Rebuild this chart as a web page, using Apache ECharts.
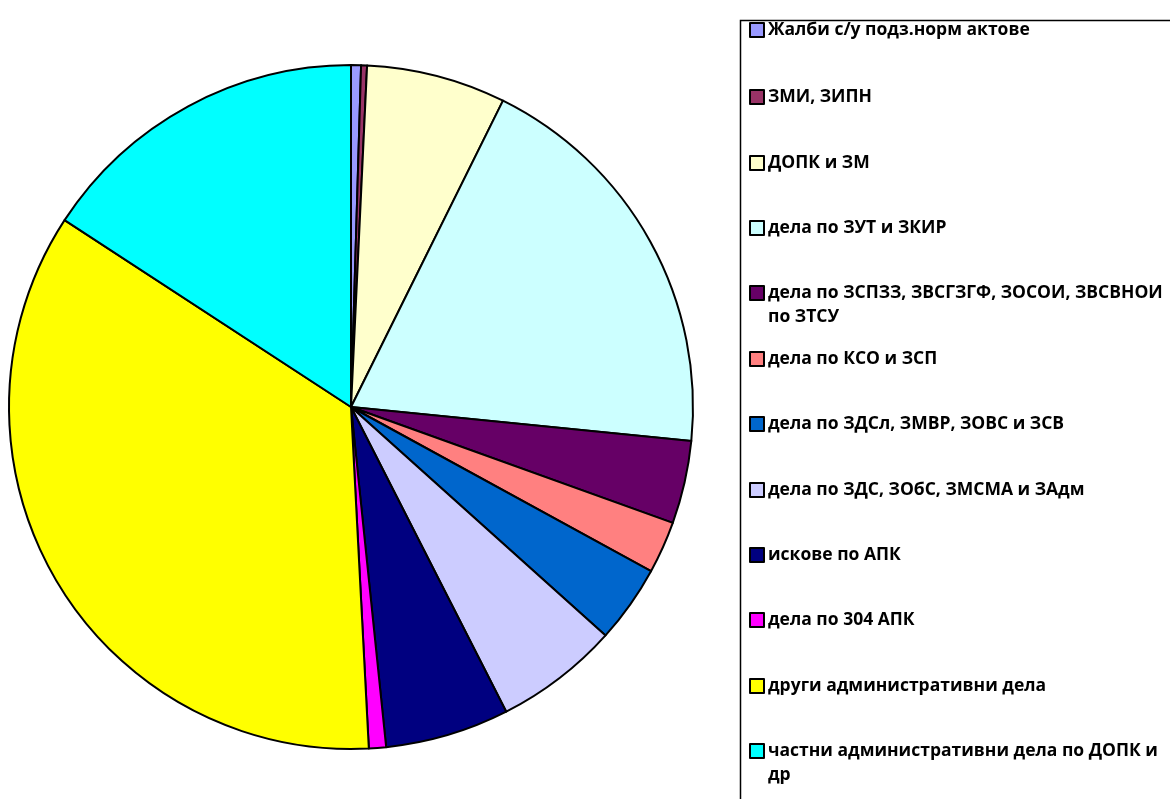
<!DOCTYPE html>
<html><head><meta charset="utf-8">
<script src="https://cdn.jsdelivr.net/npm/echarts@6/dist/echarts.min.js"></script>
<style>html,body{margin:0;padding:0;background:#fff}#c{width:1170px;height:799px}</style>
</head><body><div id="c"></div>
<script>
const categories = [
  'Жалби с/у подз.норм актове',
  'ЗМИ, ЗИПН',
  'ДОПК и ЗМ',
  'дела по ЗУТ и ЗКИР',
  'дела по ЗСПЗЗ, ЗВСГЗГФ, ЗОСОИ, ЗВСВНОИ по ЗТСУ',
  'дела по КСО и ЗСП',
  'дела по ЗДСл, ЗМВР, ЗОВС и ЗСВ',
  'дела по ЗДС, ЗОбС, ЗМСМА и ЗАдм',
  'искове по АПК',
  'дела по 304 АПК',
  'други административни дела',
  'частни административни дела по ДОПК и др'
];
const legendLabels = [
  'Жалби с/у подз.норм актове',
  'ЗМИ, ЗИПН',
  'ДОПК и ЗМ',
  'дела по ЗУТ и ЗКИР',
  'дела по ЗСПЗЗ, ЗВСГЗГФ, ЗОСОИ, ЗВСВНОИ\nпо ЗТСУ',
  'дела по КСО и ЗСП',
  'дела по ЗДСл, ЗМВР, ЗОВС и ЗСВ',
  'дела по ЗДС, ЗОбС, ЗМСМА и ЗАдм',
  'искове по АПК',
  'дела по 304 АПК',
  'други административни дела',
  'частни административни дела по ДОПК и\nдр'
];
const values = [0.47, 0.28, 6.58, 19.25, 3.92, 2.47, 3.67, 5.86, 5.86, 0.81, 35.03, 15.8];
const colors = ['#9999FF','#993366','#FFFFCC','#CCFFFF','#660066','#FF8080','#0066CC','#CCCCFF','#000080','#FF00FF','#FFFF00','#00FFFF'];
const legendCenters = [30, 97, 163, 228, 293, 359, 424, 490, 555, 620, 686, 751];

const chart = echarts.init(document.getElementById('c'));
const FONT = 'Open Sans';
const LH = 24;
const legends = categories.map((name, i) => {
  const twoLine = legendLabels[i].indexOf('\n') >= 0;
  return {
    data: [name],
    orient: 'vertical',
    left: 749,
    top: legendCenters[i] - (twoLine ? 1.5 * LH : 0.5 * LH),
    padding: 0,
    itemWidth: 14,
    itemHeight: 14,
    itemGap: 0,
    icon: 'rect',
    selectedMode: false,
    itemStyle: {borderColor: '#000', borderWidth: 2},
    formatter: () => (twoLine ? '\n' : '') + legendLabels[i],
    textStyle: {
      fontFamily: FONT, fontWeight: 'bold', fontSize: 17.5, color: '#000',
      lineHeight: LH, padding: [0, 0, 0, -1]
    }
  };
});

chart.setOption({
  animation: false,
  color: colors,
  graphic: [{
    type: 'rect', shape: {x: 740.5, y: 20.5, width: 450, height: 800},
    style: {fill: 'none', stroke: '#000', lineWidth: 1.5}
  }],
  legend: legends,
  series: [{
    type: 'pie',
    center: [351, 407],
    radius: 342,
    startAngle: 90,
    clockwise: true,
    label: {show: false},
    labelLine: {show: false},
    emphasis: {disabled: true},
    itemStyle: {borderColor: '#000', borderWidth: 2},
    data: categories.map((n, i) => ({name: n, value: values[i]}))
  }]
});
</script></body></html>
